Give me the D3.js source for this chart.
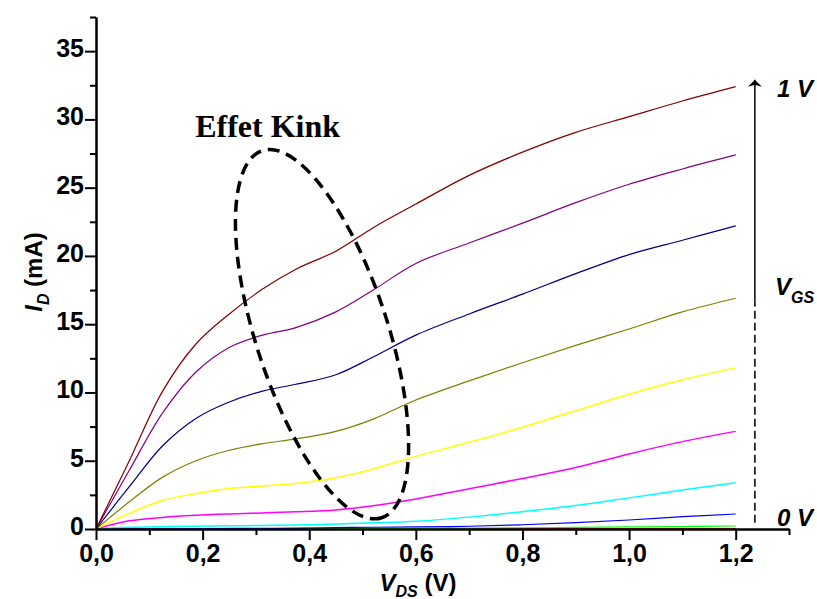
<!DOCTYPE html>
<html>
<head>
<meta charset="utf-8">
<script src="https://cdn.jsdelivr.net/npm/d3@7"></script>
<style>
  body { margin: 0; background: #fff; }
  svg { display: block; }
  .tick text { font-family: "Liberation Sans", Arial, sans-serif; font-weight: bold; font-size: 25px; fill: #000; }
</style>
</head>
<body>
<div id="chart"></div>
<script>
// Courbes ID(VDS) pour VGS de 0 V a 1 V (pas de 0,1 V)
const vds = [0, 0.0625, 0.125, 0.1875, 0.25, 0.3125, 0.375, 0.45, 0.52, 0.6, 0.7, 0.8, 0.9, 1.0, 1.1, 1.2];

const id_0v0 = [0, 0, 0, 0, 0, 0, 0, 0, 0, 0, 0, 0, 0, 0, 0, 0];
const id_0v1 = [0, 0, 0, 0, 0, 0, 0.005, 0.005, 0.01, 0.01, 0.01, 0.015, 0.02, 0.02, 0.025, 0.03];
const id_0v2 = [0, 0, 0, 0.01, 0.01, 0.02, 0.02, 0.03, 0.04, 0.05, 0.07, 0.09, 0.12, 0.15, 0.18, 0.22];
const id_0v3 = [0, 0.01, 0.02, 0.03, 0.04, 0.05, 0.06, 0.1, 0.13, 0.16, 0.2, 0.31, 0.46, 0.66, 0.9, 1.1];
const id_0v4 = [0, 0.12, 0.17, 0.2, 0.23, 0.26, 0.29, 0.36, 0.45, 0.57, 0.87, 1.27, 1.72, 2.28, 2.85, 3.38];
const id_0v5 = [0, 0.6, 0.85, 1.0, 1.1, 1.18, 1.26, 1.4, 1.7, 2.2, 2.95, 3.7, 4.5, 5.5, 6.4, 7.15];
const id_0v6 = [0, 1.14, 2.1, 2.6, 2.97, 3.15, 3.33, 3.75, 4.4, 5.32, 6.35, 7.45, 8.66, 9.87, 10.93, 11.8];
const id_0v7 = [0, 1.99, 3.8, 5.0, 5.77, 6.25, 6.6, 7.15, 8.05, 9.45, 10.85, 12.18, 13.45, 14.65, 15.9, 16.9];
const id_0v8 = [0, 3.1, 6.1, 8.1, 9.3, 10.1, 10.6, 11.3, 12.6, 14.2, 15.75, 17.2, 18.7, 20.1, 21.15, 22.2];
const id_0v9 = [0, 4.3, 8.5, 11.5, 13.3, 14.2, 14.75, 15.9, 17.5, 19.45, 20.95, 22.4, 23.9, 25.25, 26.37, 27.4];
const id_1v0 = [0, 5.0, 10.1, 13.55, 15.75, 17.57, 19.03, 20.35, 22.07, 23.8, 25.9, 27.6, 29.05, 30.2, 31.35, 32.4];

const series = [id_0v0, id_0v1, id_0v2, id_0v3, id_0v4, id_0v5, id_0v6, id_0v7, id_0v8, id_0v9, id_1v0];
const colors = ['#000000', '#ff0000', '#00ff00', '#0000ff', '#00ffff', '#ff00ff',
                '#ffff00', '#808000', '#000080', '#800080', '#800000'];

const yTicks = [0, 5, 10, 15, 20, 25, 30, 35];
const xTicks = [0, 0.2, 0.4, 0.6, 0.8, 1.0, 1.2];

const width = 817, height = 599;

const svg = d3.select('#chart').append('svg')
  .attr('width', width)
  .attr('height', height);

const x = d3.scaleLinear().domain([0, 1.3]).range([96, 789]);
const y = d3.scaleLinear().domain([0, 37.5]).range([529, 17]);

// Courbes
const line = d3.line()
  .x((d, i) => x(vds[i]))
  .y(d => y(d))
  .curve(d3.curveCatmullRom.alpha(0.5));

svg.append('g')
  .selectAll('path')
  .data(series)
  .enter()
  .append('path')
  .attr('d', d => line(d))
  .attr('fill', 'none')
  .attr('stroke', (d, i) => colors[i])
  .attr('stroke-width', (d, i) => (i >= 4 && i <= 6) ? 1.5 : 1.2);

// Axes
const fmt = d => d3.format('.1f')(d).replace('.', ',');

const xAxis = svg.append('g')
  .attr('transform', `translate(0,${y(0)})`)
  .call(d3.axisBottom(x).tickValues(xTicks).tickSize(11).tickSizeOuter(0).tickPadding(4).tickFormat(fmt));
svg.append('g')
  .attr('transform', `translate(0,${y(0)})`)
  .call(d3.axisBottom(x).tickValues(d3.range(1, 14, 2).map(d => d / 10)).tickSize(6).tickSizeOuter(0).tickFormat(''));

const yAxis = svg.append('g')
  .attr('transform', `translate(${x(0)},0)`)
  .call(d3.axisLeft(y).tickValues(yTicks).tickSize(11).tickSizeOuter(0).tickPadding(1));
svg.append('g')
  .attr('transform', `translate(${x(0)},0)`)
  .call(d3.axisLeft(y).tickValues(d3.range(2.5, 40, 5)).tickSize(6).tickSizeOuter(0).tickFormat(''));

svg.selectAll('.domain, .tick line').attr('stroke', '#000').attr('stroke-width', 2);
yAxis.selectAll('.tick text').attr('dy', '0.22em');
xAxis.selectAll('.tick text').attr('dy', '0.7em');

// Titres des axes
const sans = '"Liberation Sans", Arial, sans-serif';

const xt = svg.append('text')
  .attr('x', 418).attr('y', 591)
  .attr('text-anchor', 'middle')
  .style('font-family', sans).style('font-weight', 'bold').style('font-size', '24px');
xt.append('tspan').style('font-style', 'italic').text('V');
xt.append('tspan').style('font-style', 'italic').style('font-size', '16px').attr('dy', 6).text('DS');
xt.append('tspan').attr('dy', -6).text(' (V)');

const yt = svg.append('text')
  .attr('transform', 'translate(42,272) rotate(-90)')
  .attr('text-anchor', 'middle')
  .style('font-family', sans).style('font-weight', 'bold').style('font-size', '24px');
yt.append('tspan').style('font-style', 'italic').text('I');
yt.append('tspan').style('font-style', 'italic').style('font-size', '16px').attr('dy', 7).text('D');
yt.append('tspan').attr('dy', -7).text(' (mA)');

// Annotation : effet Kink
svg.append('text')
  .attr('x', x(0.186)).attr('y', y(28.7))
  .style('font-family', '"Liberation Serif", "Times New Roman", serif')
  .style('font-weight', 'bold').style('font-size', '32px')
  .text('Effet Kink');

svg.append('ellipse')
  .attr('cx', 0).attr('cy', 0).attr('rx', 193).attr('ry', 66)
  .attr('transform', `translate(${x(0.424)},${y(14.27)}) rotate(72)`)
  .attr('fill', 'none')
  .attr('stroke', '#000')
  .attr('stroke-width', 3.5)
  .attr('stroke-dasharray', '12,7');

// Fleche VGS
const ax = x(1.236);
svg.append('defs').append('marker')
  .attr('id', 'arrow')
  .attr('viewBox', '0 0 10 20')
  .attr('refX', 10).attr('refY', 10)
  .attr('markerWidth', 7).attr('markerHeight', 14)
  .attr('markerUnits', 'userSpaceOnUse')
  .attr('orient', 'auto')
  .append('path')
  .attr('d', 'M0,0 L10,10 L0,20 L3,10 Z')
  .attr('fill', '#000');

svg.append('line')
  .attr('x1', ax).attr('x2', ax)
  .attr('y1', y(0.45)).attr('y2', y(16.8))
  .attr('stroke', '#000').attr('stroke-width', 1.5)
  .attr('stroke-dasharray', '8,4');
svg.append('line')
  .attr('x1', ax).attr('x2', ax)
  .attr('y1', y(16.8)).attr('y2', y(32.9))
  .attr('stroke', '#000').attr('stroke-width', 1.5)
  .attr('marker-end', 'url(#arrow)');

const lab = (tx, ty) => svg.append('text')
  .attr('x', tx).attr('y', ty)
  .style('font-family', sans).style('font-weight', 'bold')
  .style('font-style', 'italic').style('font-size', '24px');

lab(777, 97).text('1 V');
lab(777, 526).text('0 V');
const vgs = lab(775, 295);
vgs.append('tspan').text('V');
vgs.append('tspan').style('font-size', '16px').attr('dy', 8).text('GS');
</script>
</body>
</html>
